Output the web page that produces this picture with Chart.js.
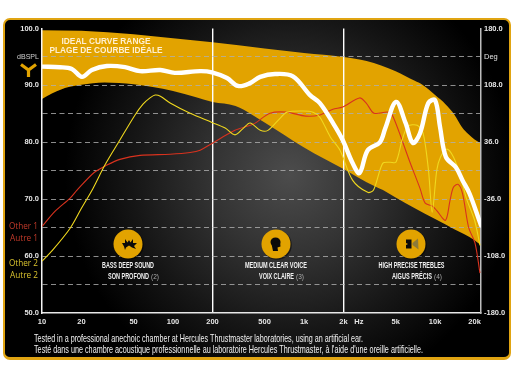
<!DOCTYPE html>
<html><head><meta charset="utf-8">
<style>
html,body{margin:0;padding:0;background:#fff}
#wrap{position:relative;width:513px;height:378px;overflow:hidden}
#frame{position:absolute;left:3px;top:18px;width:504px;height:337px;border:2px solid #e0a412;border-bottom-width:3px;border-radius:7px;
background:radial-gradient(circle 225px at 285px 155px,#4c4c4c 0,#333 35%,#161616 70%,#000 100%)}
canvas{position:absolute;left:0;top:0}
</style>
<script src="https://cdn.jsdelivr.net/npm/chart.js@4"></script>
</head><body><div id="wrap"><div id="frame"></div><canvas id="c" width="513" height="378"></canvas></div>
<script>
const xTicks=[10,20,50,100,200,500,1000,2000,2620,5000,10000,20000];
const xLabels=['10','20','50','100','200','500','1k','2k','Hz','5k','10k','20k'];
const xDividers=[200,2000];
const dbTicks=[50,55,60,65,70,75,80,85,90,95,100];
const dbLabelled=[50,60,70,80,90,100];
const degTicks=[-180,-108,-36,36,108,180];

const upperFreq=[10,20,50,100,200,500,1000,2000,3000,5000,7000,8000,10000,12000,14000,16000,18000,20000,22400];
const upperDb=[99.7,99.6,99.0,98.3,97.6,96.5,95.7,95.0,94.3,92.5,90.8,90.1,88.3,86.7,84.9,82.7,81.4,80.5,79.8];
const lowerFreq=[10,12,14,16,20,30,50,70,100,150,200,300,500,1000,2000,3000,4000,5000,7000,10000,14000,20000,22400];
const lowerDb=[87.6,88.6,89.3,89.7,90.1,90.5,90.2,89.7,89.0,87.9,87.1,86.4,83.5,79.1,75.3,73.0,71.6,70.3,68.4,66.5,64.7,62.8,61.9];
const mainFreq=[10,13.7,16.9,20.2,24,31.3,43,56,80,103,161,198,258,313,387,463,600,822,1110,1320,1660,1970,2350,2650,3060,3790,4170,5030,5950,6760,7670,8880,10000,10900,12100,14400,16200,18300,21700,22400];
const mainDb=[93.3,93.2,92.9,91.5,92.7,93.4,93.2,92.5,92.7,92.2,92.5,92.3,91.3,89.9,90.4,91.5,92.0,91.6,88.3,86.9,83.4,80.4,76.3,74.6,78.6,80.0,82.5,87.1,83.4,79.9,81.6,86.9,87.4,82.7,77.4,75.6,73.3,71.0,66.3,65.4];
const other2Freq=[10,12,16.4,20,24.5,30.2,39.3,51.3,59,66.7,73,80,95,135,198,250,297,345,387,463,530,655,740,982,1170,1320,1590,1880,2350,3060,3390,3980,4510,5020,5600,6200,7300,8100,8900,9500,10300,11000,12300,13800,15700,17300,20000,22000];
const other2Db=[59.1,61.0,64.9,68.4,71.9,76.0,80.4,84.8,86.7,87.8,88.3,88.1,86.9,85.1,83.5,82.5,81.3,82.5,83.4,82.1,82.1,84.2,85.3,85.5,85.3,84.4,80.9,78.6,73.3,71.2,71.6,76.3,76.5,76.5,80.4,82.8,83.0,81.6,75.1,67.7,75.1,77.4,78.8,77.4,73.9,70.2,66.3,61.9];
const other1Freq=[10,12.6,16.4,18.5,25,31.3,39.3,56,95,135,161,198,297,410,550,730,1030,1320,1660,1970,2650,2980,3420,4400,4800,6430,7670,8400,9500,10300,12000,13000,13800,15000,16200,18000,20200,22000];
const other1Db=[65.2,67.9,70.2,71.6,74.7,76.0,77.0,77.7,77.9,78.2,78.6,79.8,82.1,83.2,85.1,85.3,84.6,84.8,85.8,86.2,87.8,86.9,85.1,85.3,84.4,76.5,71.9,69.3,68.8,68.0,66.3,69.8,72.1,72.6,71.0,65.1,62.2,57.0];

const pts=(f,v)=>f.map((x,i)=>({x,y:v[i]}));
const ORANGE='#e2a300';
const COND='"Liberation Sans", Arial, sans-serif';

function label(ctx,txt,x,y,w,font,color,align){
  ctx.font=font;ctx.fillStyle=color;ctx.textAlign=align||'center';ctx.textBaseline='middle';
  ctx.fillText(txt,x,y,w);
}
const textPlugin={id:'texts',afterDraw(chart){
  const c=chart.ctx;c.save();
  label(c,'IDEAL CURVE RANGE',106,41,89,'bold 9.5px '+COND,'#fff0d0');
  label(c,'PLAGE DE COURBE IDÉALE',106,50,113,'bold 9.5px '+COND,'#fff0d0');
  label(c,'dBSPL',39,57,22,'7.5px '+COND,'#cfcfcf','right');
  label(c,'Deg',484,57,14,'7.5px '+COND,'#e0e0e0','left');
  label(c,'Other 1',38,226.5,29,'9px "Open Sans", sans-serif','#c23a2a','right');
  label(c,'Autre 1',38,238,28,'9px "Open Sans", sans-serif','#c23a2a','right');
  label(c,'Other 2',38,263.5,29,'9px "Open Sans", sans-serif','#d9c22e','right');
  label(c,'Autre 2',38,275,28,'9px "Open Sans", sans-serif','#d9c22e','right');
  // Y logo
  c.strokeStyle=ORANGE;c.lineWidth=3.2;c.lineJoin='miter';c.beginPath();
  c.moveTo(21,64.5);c.lineTo(28.5,70);c.lineTo(36,64.5);c.moveTo(28.5,70);c.lineTo(28.5,77);c.stroke();
  // badges
  [[128,244],[276,244],[411,244]].forEach(([x,y])=>{
    c.fillStyle='rgba(0,0,0,.5)';c.beginPath();c.arc(x+1,y+1,14.8,0,7);c.fill();
    c.fillStyle=ORANGE;c.beginPath();c.arc(x,y,14.5,0,7);c.fill();});
  c.fillStyle='#0a0a0a';
  // burst
  const b=[[-7,-1],[-4,-1],[-4,-5],[-1.5,-1.5],[0,-4],[1.5,-1.5],[4,-5],[4,-1],[8,-1],[5,2],[7,5],[3,3.5],[0,1.5],[-3,3.5],[-4,6],[-5,2.5]];
  c.beginPath();b.forEach(([a,d],i)=>i?c.lineTo(129+a,244+d):c.moveTo(129+a,244+d));c.closePath();c.fill();
  // head
  c.beginPath();c.ellipse(275.5,242,5,4.6,0,0,7);c.fill();
  c.beginPath();c.moveTo(271.5,244);c.lineTo(273,251);c.lineTo(278,251);c.lineTo(277.5,247.5);c.lineTo(280.5,246.5);c.lineTo(280,241);c.closePath();c.fill();
  // speaker
  c.beginPath();c.moveTo(406,239.5);c.lineTo(411.5,239.5);c.lineTo(411.5,248.5);c.lineTo(406,248.5);c.lineTo(406,245);c.lineTo(408,244);c.lineTo(406,243);c.closePath();c.fill();
  c.fillStyle='#8c7a3a';
  c.beginPath();c.moveTo(412.5,243);c.lineTo(418,238.5);c.lineTo(418.5,249.5);c.lineTo(412.5,245);c.closePath();c.fill();
  const T='bold 9px '+COND;
  label(c,'BASS DEEP SOUND',128,266,52,T,'#f0f0f0');
  label(c,'SON PROFOND',108,277,41,T,'#f0f0f0','left');
  label(c,'(2)',151,277,8,'6.5px '+COND,'#aaa','left');
  label(c,'MEDIUM CLEAR VOICE',276,266,62,T,'#f0f0f0');
  label(c,'VOIX CLAIRE',259,277,35,T,'#f0f0f0','left');
  label(c,'(3)',296,277,8,'6.5px '+COND,'#aaa','left');
  label(c,'HIGH PRECISE TREBLES',411.5,266,66,T,'#f0f0f0');
  label(c,'AIGUS PRÉCIS',392,277,40,T,'#f0f0f0','left');
  label(c,'(4)',434,277,8,'6.5px '+COND,'#aaa','left');
  const F='10.5px '+COND;
  label(c,'Tested in a professional anechoic chamber at Hercules Thrustmaster laboratories, using an artificial ear.',34,339,329,F,'#f2f2f2','left');
  label(c,"Testé dans une chambre acoustique professionnelle au laboratoire Hercules Thrustmaster, à l'aide d'une oreille artificielle.",34,350,389,F,'#f2f2f2','left');
  c.restore();
}};
const tickFont={family:'"Liberation Sans", Arial, sans-serif',size:7.5,weight:'bold'};
new Chart(document.getElementById('c'),{
  type:'line',
  data:{datasets:[
    {label:'Ideal upper',data:pts(upperFreq,upperDb),borderWidth:0,borderColor:'rgba(0,0,0,0)',backgroundColor:ORANGE,pointRadius:0,fill:'+1',cubicInterpolationMode:'monotone',order:5},
    {label:'Ideal lower',data:pts(lowerFreq,lowerDb),borderWidth:0,borderColor:'rgba(0,0,0,0)',pointRadius:0,fill:false,cubicInterpolationMode:'monotone',order:6},
    {label:'Other 1',data:pts(other1Freq,other1Db),borderColor:'#d8321e',borderWidth:1.1,pointRadius:0,fill:false,tension:0.3,order:3},
    {label:'Other 2',data:pts(other2Freq,other2Db),borderColor:'#f0d81e',borderWidth:1.1,pointRadius:0,fill:false,tension:0.3,order:2},
    {label:'Main',data:pts(mainFreq,mainDb),borderColor:'#fff',borderWidth:4.4,borderCapStyle:'round',borderJoinStyle:'round',pointRadius:0,fill:false,tension:0.35,order:1}
  ]},
  options:{
    responsive:false,animation:false,
    layout:{padding:{top:28.5,left:0,right:0,bottom:0}},
    plugins:{legend:{display:false},tooltip:{enabled:false},filler:{drawTime:'beforeDraw',propagate:false}},
    scales:{
      x:{type:'logarithmic',min:10,max:22400,
        afterFit(s){s.height=65;},
        afterBuildTicks(s){s.ticks=xTicks.map(v=>({value:v}));},
        grid:{drawTicks:false,color:c=>xDividers.includes(c.tick&&c.tick.value)?'#fff':'rgba(0,0,0,0)',lineWidth:1.4},
        border:{color:'#e8e8e8',width:1.5},
        ticks:{autoSkip:false,maxRotation:0,minRotation:0,padding:4,color:'#e6e6e6',font:tickFont,
          callback(v){const i=xTicks.indexOf(v);return i<0?'':xLabels[i];}}
      },
      y:{position:'left',min:50,max:100,
        afterFit(s){s.width=42;},
        afterBuildTicks(s){s.ticks=dbTicks.map(v=>({value:v}));},
        grid:{drawTicks:false,color:c=>{const v=c.tick&&c.tick.value;return (v===50||v===100)?'rgba(0,0,0,0)':'rgba(175,175,175,.8)';},lineWidth:1},
        border:{color:'#f4f4f4',width:1.5,dash:[5,3.5]},
        ticks:{autoSkip:false,padding:3,color:'#e6e6e6',font:tickFont,
          callback(v){return dbLabelled.includes(v)?v.toFixed(1):'';}}
      },
      y2:{position:'right',min:-180,max:180,
        afterFit(s){s.width=32;},
        afterBuildTicks(s){s.ticks=degTicks.map(v=>({value:v}));},
        grid:{display:false,drawTicks:false},
        border:{color:'#bdbdbd',width:1.5},
        ticks:{autoSkip:false,padding:3,color:'#e6e6e6',font:tickFont,callback(v){return v.toFixed(1);}}
      }
    }
  },
  plugins:[textPlugin]
});
</script></body></html>
